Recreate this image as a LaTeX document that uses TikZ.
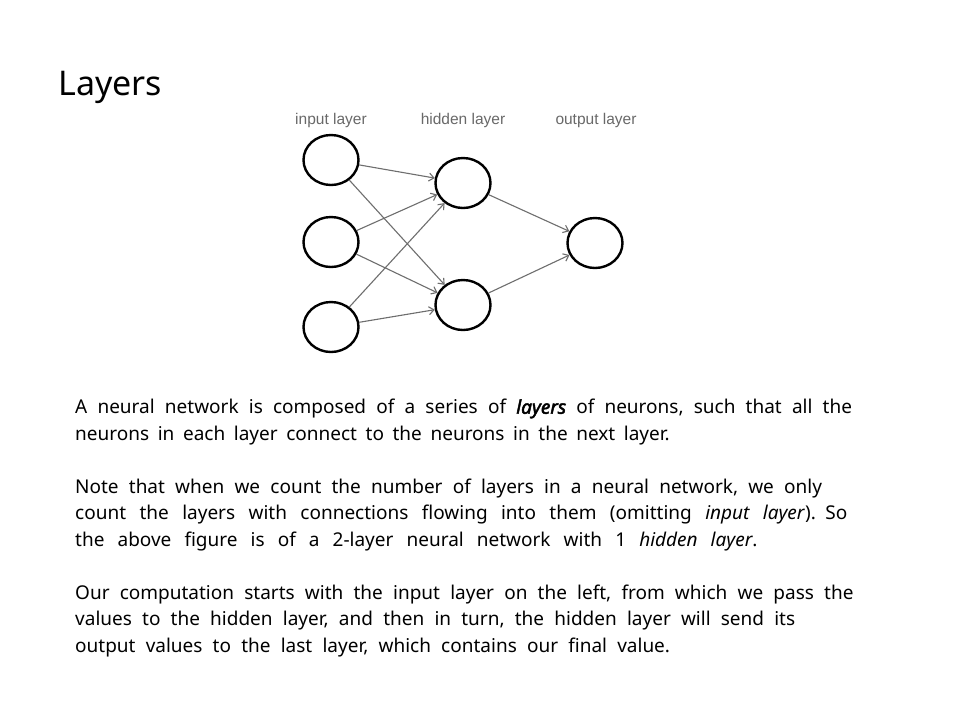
\documentclass[tikz,border=0pt]{standalone}
\usepackage{fontspec}
\setmainfont{Noto Sans}
\newfontfamily\labelfont{Liberation Sans}
\usetikzlibrary{shapes.geometric,arrows.meta}
\definecolor{linkgray}{RGB}{110,110,110}
\definecolor{labelgray}{RGB}{105,105,105}
\newcommand{\keyterm}[1]{{\itshape\addfontfeature{FakeBold=2.5}#1}}
\newcommand{\wordgap}[2]{{\spaceskip=#1\relax #2}}
\tikzset{
  neuron/.style={ellipse, draw=black, line width=2.4pt, minimum width=55pt, minimum height=50pt, inner sep=0pt},
  link/.style={draw=linkgray, line width=1.1pt, -{Straight Barb[length=5pt,width=8pt,line width=1.1pt]}},
  layerlabel/.style={font=\labelfont\fontsize{15.5}{18}\selectfont, text=labelgray, inner sep=0pt},
}
\begin{document}
\begin{tikzpicture}[x=1pt,y=-1pt]
\useasboundingbox[fill=white] (0,0) rectangle (960,720);

% slide title
\node[anchor=west, inner sep=0pt, font=\fontsize{34}{40}\selectfont] (title) at (58,87) {Layers};

% network
\node[layerlabel] (lin)  at (331,120) {input layer};
\node[layerlabel] (lhid) at (463,120) {hidden layer};
\node[layerlabel] (lout) at (596,120) {output layer};

\node[neuron] (i1) at (331,160) {};
\node[neuron] (i2) at (331,242) {};
\node[neuron] (i3) at (331,327) {};
\node[neuron] (h1) at (463,183) {};
\node[neuron] (h2) at (463,305) {};
\node[neuron] (o1) at (595,243) {};

\foreach \a in {i1,i2,i3}{
  \foreach \b in {h1,h2}{
    \draw[link] (\a) -- (\b);
  }
}
\draw[link] (h1) -- (o1);
\draw[link] (h2) -- (o1);

% explanatory text, set as one paragraph block with wide word spacing
\node[anchor=north west, inner sep=0pt, text width=820pt, align=left,
      font=\fontsize{19}{26.5}\selectfont] (body) at (75,399) {%
\spaceskip=10.2pt\relax
A neural network is composed of a series of \keyterm{layers} of neurons, such that all the\\
\wordgap{8.6pt}{neurons in each layer connect to the neurons in the next layer.}\\[26.5pt]
Note that when we count the number of layers in a neural network, we only\\
\wordgap{13.4pt}{count the layers with connections flowing into them (omitting \textit{input layer}). So}\\
\wordgap{13.1pt}{the above figure is of a 2-layer neural network with 1 \textit{hidden layer}.}\\[26.5pt]
Our computation starts with the input layer on the left, from which we pass the\\
values to the hidden layer, and then in turn, the hidden layer will send its\\
output values to the last layer, which contains our final value.};
\end{tikzpicture}
\end{document}
